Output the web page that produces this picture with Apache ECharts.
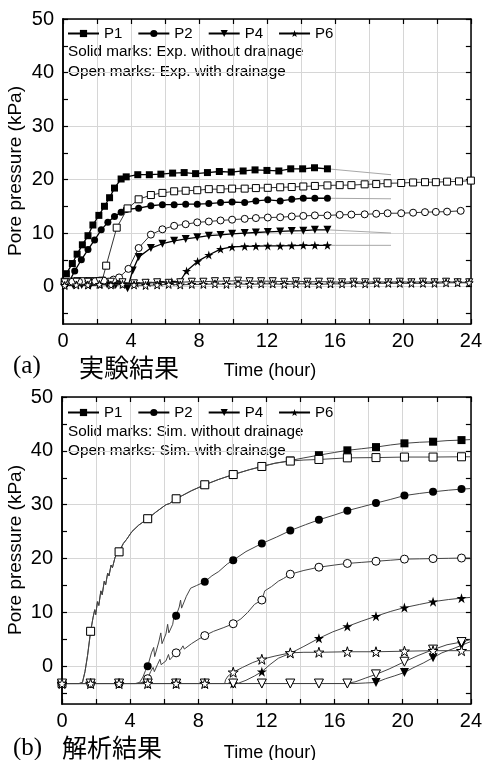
<!DOCTYPE html>
<html><head><meta charset="utf-8">
<script src="https://cdn.jsdelivr.net/npm/echarts@6/dist/echarts.min.js"></script>
<style>html,body{margin:0;padding:0;background:#fff}#c{width:485px;height:760px}</style>
</head><body><div id="c"></div>
<script>
// ---------- tick values ----------
const xLabelValues = [0, 4, 8, 12, 16, 20, 24];
const yLabelValues = [0, 10, 20, 30, 40, 50];
const yTickValues = [-5, 0, 5, 10, 15, 20, 25, 30, 35, 40, 45, 50];
const legendNames = ['P1', 'P2', 'P4', 'P6'];

// ---------- (a) experiment ----------
const expP1Solid = [[0.2,2.4],[0.55,4.3],[0.83,6.05],[1.14,7.8],[1.47,9.5],[1.76,11.5],[2.11,13.3],[2.44,15.0],[2.74,16.6],[3.03,18.4],[3.42,20.1],[3.72,20.5],[4.4,20.9],[5.08,20.9],[5.76,21.0],[6.45,21.2],[7.13,21.3],[7.8,21.1],[8.5,21.3],[9.2,21.5],[9.9,21.4],[10.6,21.6],[11.3,21.8],[12.0,21.7],[12.7,21.6],[13.4,22.0],[14.1,22.0],[14.8,22.2],[15.56,22.0]];
const expP2Solid = [[0.1,0.4],[0.36,0.9],[0.69,2.9],[1.08,5.0],[1.47,6.9],[1.86,8.7],[2.25,10.6],[2.64,12.0],[3.03,13.1],[3.42,13.9],[3.72,14.4],[4.45,14.65],[5.17,15.1],[5.85,15.3],[6.54,15.3],[7.22,15.4],[7.9,15.4],[8.58,15.5],[9.27,15.7],[9.95,15.8],[10.69,15.7],[11.35,16.0],[12.05,16.2],[12.78,16.0],[13.46,16.3],[14.14,16.5],[14.82,16.5],[15.56,16.5]];
const expP4Solid = [[0.1,0.2],[0.6,0.3],[1.1,0.3],[1.6,0.2],[2.1,0.3],[2.6,0.4],[3.1,0.3],[3.45,0.4],[3.8,-0.3],[4.1,3.0],[4.45,5.5],[5.17,7.2],[5.85,8.0],[6.54,8.55],[7.22,8.9],[7.9,9.2],[8.58,9.5],[9.27,9.65],[9.95,9.85],[10.69,10.0],[11.35,10.1],[12.05,10.2],[12.78,10.3],[13.46,10.4],[14.14,10.45],[14.82,10.6],[15.56,10.6]];
const expP6Solid = [[0.1,0.4],[0.8,0.4],[1.5,0.3],[2.2,0.4],[2.9,0.4],[3.6,0.5],[4.3,0.6],[5.0,0.7],[5.7,0.8],[6.4,0.9],[6.85,0.8],[7.27,2.9],[7.92,4.7],[8.58,5.9],[9.27,7.0],[9.95,7.4],[10.69,7.5],[11.35,7.55],[12.05,7.6],[12.78,7.6],[13.46,7.65],[14.14,7.7],[14.82,7.7],[15.56,7.7]];
const expP1Open = [[0.1,0.9],[0.5,0.9],[0.85,1.0],[1.2,1.0],[1.55,1.0],[1.9,1.0],[2.3,1.1],[2.54,3.9],[3.16,11.0],[3.8,14.6],[4.45,16.3],[5.17,17.1],[5.85,17.5],[6.54,17.8],[7.22,17.9],[7.9,18.0],[8.58,18.2],[9.27,18.2],[9.95,18.3],[10.69,18.3],[11.35,18.4],[12.05,18.45],[12.78,18.55],[13.46,18.6],[14.14,18.7],[14.82,18.8],[15.56,18.9],[16.28,18.95],[16.97,18.95],[17.75,19.1],[18.43,19.15],[19.1,19.3],[19.9,19.35],[20.6,19.45],[21.3,19.5],[21.94,19.5],[22.6,19.6],[23.3,19.65],[24.0,19.8]];
const expP2Open = [[0.1,0.8],[0.55,0.9],[0.94,0.9],[1.5,1.0],[1.9,1.0],[2.4,1.1],[2.97,1.3],[3.3,1.7],[3.85,3.3],[4.45,7.2],[5.17,9.7],[5.85,10.7],[6.54,11.35],[7.22,11.65],[7.9,12.0],[8.58,12.15],[9.27,12.35],[9.95,12.5],[10.69,12.65],[11.35,12.8],[12.05,12.9],[12.78,12.95],[13.46,13.1],[14.14,13.2],[14.82,13.3],[15.56,13.3],[16.28,13.4],[16.97,13.45],[17.75,13.5],[18.43,13.6],[19.1,13.7],[19.9,13.7],[20.6,13.8],[21.3,13.9],[21.94,13.95],[22.6,14.0],[23.4,14.15]];
const expP4Open = [[0.1,0.8],[0.78,0.9],[1.46,0.9],[2.14,1.0],[2.82,0.9],[3.5,0.8],[4.18,0.6],[4.86,0.7],[5.54,0.8],[6.22,0.7],[6.9,0.8],[7.58,0.9],[8.26,0.9],[8.94,1.0],[9.62,1.0],[10.3,1.1],[10.98,1.0],[11.66,1.0],[12.34,1.0],[13.02,0.9],[13.7,1.0],[14.38,0.9],[15.06,0.9],[15.74,0.9],[16.42,0.8],[17.1,0.9],[17.78,0.8],[18.46,0.9],[19.14,0.8],[19.82,0.9],[20.5,0.8],[21.18,0.9],[21.86,0.8],[22.54,0.9],[23.22,0.8],[23.9,0.8]];
const expP6Open = [[0.1,0.2],[0.78,0.3],[1.46,0.3],[2.14,0.4],[2.82,0.3],[3.5,0.4],[4.18,0.3],[4.86,0.2],[5.54,0.3],[6.22,0.4],[6.9,0.3],[7.58,0.4],[8.26,0.4],[8.94,0.5],[9.62,0.4],[10.3,0.5],[10.98,0.4],[11.66,0.5],[12.34,0.5],[13.02,0.4],[13.7,0.5],[14.38,0.5],[15.06,0.4],[15.74,0.5],[16.42,0.5],[17.1,0.6],[17.78,0.5],[18.46,0.6],[19.14,0.6],[19.82,0.6],[20.5,0.6],[21.18,0.6],[21.86,0.6],[22.54,0.7],[23.22,0.7],[23.9,0.7]];
const expExtP1 = [[15.56,22.0],[19.3,20.9]];
const expExtP2 = [[15.56,16.5],[19.3,16.4]];
const expExtP4 = [[15.56,10.6],[19.3,10.0]];
const expExtP6 = [[15.56,7.7],[19.3,7.7]];

// ---------- (b) simulation ----------
const simMarkTimes = [0, 1.68, 3.35, 5.03, 6.7, 8.38, 10.05, 11.73, 13.4, 15.08, 16.75, 18.43, 20.1, 21.78, 23.45];
const simP1SolidMarks = [-3.2, 6.5, 21.25, 27.4, 31.1, 33.7, 35.6, 37.1, 38.2, 39.2, 40.1, 40.7, 41.4, 41.7, 42.0];
const simP1OpenMarks  = [-3.2, 6.5, 21.25, 27.4, 31.1, 33.7, 35.6, 37.1, 38.1, 38.4, 38.7, 38.75, 38.85, 38.85, 38.9];
const simP2SolidMarks = [-3.2, -3.2, -3.2, 0.0, 9.4, 15.7, 19.7, 22.8, 25.2, 27.2, 28.9, 30.3, 31.7, 32.4, 32.9];
const simP2OpenMarks  = [-3.2, -3.2, -3.2, -2.3, 2.5, 5.7, 7.9, 12.3, 17.1, 18.4, 19.1, 19.5, 19.9, 20.0, 20.1];
const simP4SolidMarks = [-3.2, -3.2, -3.2, -3.2, -3.2, -3.2, -3.2, -3.2, -3.2, -3.2, -3.2, -3.0, -1.15, 1.6, 3.9];
const simP4OpenMarks  = [-3.2, -3.2, -3.2, -3.2, -3.2, -3.2, -3.2, -3.2, -3.2, -3.2, -3.2, -1.5, 0.85, 3.1, 4.5];
const simP6SolidMarks = [-3.2, -3.2, -3.2, -3.2, -3.2, -3.2, -3.2, -1.0, 2.4, 5.2, 7.4, 9.3, 10.9, 12.0, 12.65];
const simP6OpenMarks  = [-3.2, -3.2, -3.2, -3.2, -3.2, -3.2, -1.1, 1.3, 2.5, 2.6, 2.7, 2.7, 2.8, 2.9, 2.9];

const simP1OpenCurve = [[0,-3.2],[1.0,-3.2],[1.2,-3.0],[1.35,-1.0],[1.5,2.0],[1.68,6.5],[1.82,9.0],[1.92,10.5],[1.98,9.6],[2.08,12.0],[2.16,11.3],[2.28,14.0],[2.36,13.3],[2.48,15.8],[2.56,15.1],[2.68,17.3],[2.76,16.8],[2.88,18.8],[2.96,18.3],[3.12,20.3],[3.35,21.25],[3.6,22.8],[3.8,23.6],[3.9,23.3],[4.1,25.0],[4.5,26.2],[5.03,27.4],[5.5,28.6],[6.1,30.0],[6.3,30.2],[6.7,31.1],[7.0,31.6],[7.6,32.6],[8.38,33.7],[9.2,34.7],[10.05,35.6],[11.0,36.5],[11.73,37.1],[12.5,37.7],[13.4,38.1],[14.2,38.3],[15.08,38.4],[16.75,38.7],[18.43,38.75],[20.1,38.85],[21.78,38.85],[23.45,38.9],[24,38.9]];
const simP1SolidCurve = [[0,-3.2],[1.0,-3.2],[1.2,-3.0],[1.35,-1.0],[1.5,2.0],[1.68,6.5],[1.82,9.0],[1.92,10.5],[1.98,9.6],[2.08,12.0],[2.16,11.3],[2.28,14.0],[2.36,13.3],[2.48,15.8],[2.56,15.1],[2.68,17.3],[2.76,16.8],[2.88,18.8],[2.96,18.3],[3.12,20.3],[3.35,21.25],[3.6,22.8],[3.8,23.6],[3.9,23.3],[4.1,25.0],[4.5,26.2],[5.03,27.4],[5.5,28.6],[6.1,30.0],[6.3,30.2],[6.7,31.1],[7.0,31.6],[7.6,32.6],[8.38,33.7],[9.2,34.7],[10.05,35.6],[11.0,36.5],[11.73,37.1],[12.5,37.7],[13.4,38.2],[14.2,38.7],[15.08,39.2],[16.0,39.7],[16.75,40.1],[17.6,40.4],[18.43,40.7],[19.3,41.1],[20.1,41.4],[21.0,41.6],[21.78,41.7],[22.6,41.9],[23.45,42.0],[24,42.1]];
const simP2SolidCurve = [[0,-3.2],[4.3,-3.2],[4.55,-3.0],[4.75,-2.0],[4.9,-0.8],[5.03,0.0],[5.25,2.5],[5.38,3.5],[5.44,1.8],[5.68,4.5],[5.8,6.2],[5.87,4.2],[6.1,6.0],[6.2,7.8],[6.27,6.2],[6.5,7.8],[6.6,10.0],[6.65,8.6],[6.7,9.4],[6.88,11.0],[6.96,12.3],[7.02,10.8],[7.3,13.0],[7.55,14.5],[7.9,15.0],[8.38,15.7],[8.8,16.8],[9.2,17.6],[9.7,19.0],[10.05,19.7],[10.8,21.3],[11.73,22.8],[12.6,24.0],[13.4,25.2],[14.3,26.3],[15.08,27.2],[16.0,28.1],[16.75,28.9],[17.6,29.6],[18.43,30.3],[19.3,31.0],[20.1,31.7],[21.0,32.1],[21.78,32.4],[22.7,32.7],[23.45,32.9],[24,33.0]];
const simP2OpenCurve = [[0,-3.2],[4.4,-3.2],[4.7,-3.0],[4.85,-2.6],[5.03,-2.3],[5.2,-1.0],[5.35,-0.2],[5.42,-1.0],[5.6,0.3],[5.75,1.3],[5.82,0.3],[6.1,1.0],[6.25,2.2],[6.33,1.2],[6.55,2.0],[6.7,2.5],[6.95,3.0],[7.1,3.8],[7.18,3.2],[7.6,4.2],[8.0,5.0],[8.38,5.7],[8.9,6.5],[9.5,7.2],[10.05,7.9],[10.5,8.8],[10.9,10.0],[11.3,11.5],[11.73,12.3],[11.9,14.0],[12.3,14.8],[12.7,15.8],[13.0,16.3],[13.4,17.1],[14.2,17.8],[15.08,18.4],[16.0,18.8],[16.75,19.1],[17.6,19.3],[18.43,19.5],[19.3,19.7],[20.1,19.9],[21.0,19.95],[21.78,20.0],[22.7,20.05],[23.45,20.1],[24,20.1]];
const simP4SolidCurve = [[0,-3.2],[17.2,-3.2],[17.8,-3.1],[18.43,-3.0],[19.0,-2.3],[19.5,-1.8],[20.1,-1.15],[20.6,-0.3],[21.2,0.6],[21.78,1.6],[22.3,2.5],[22.9,3.2],[23.45,3.9],[24,4.6]];
const simP4OpenCurve = [[0,-3.2],[16.6,-3.2],[17.2,-2.9],[17.8,-2.2],[18.43,-1.5],[19.2,-0.5],[20.1,0.85],[20.9,2.0],[21.78,3.1],[22.6,4.0],[23.45,4.5],[24,5.0]];
const simP6SolidCurve = [[0,-3.2],[10.3,-3.2],[10.8,-2.6],[11.3,-1.8],[11.73,-1.0],[12.2,0.3],[12.7,1.5],[13.4,2.4],[14.2,3.7],[15.08,5.2],[15.9,6.4],[16.75,7.4],[17.6,8.4],[18.43,9.3],[19.3,10.2],[20.1,10.9],[21.0,11.5],[21.78,12.0],[22.7,12.4],[23.45,12.65],[24,12.8]];
const simP6OpenCurve = [[0,-3.2],[9.55,-3.2],[9.6,-2.5],[9.75,-1.8],[10.05,-1.1],[10.6,-0.2],[11.2,0.7],[11.73,1.3],[12.5,1.9],[13.4,2.5],[14.2,2.6],[15.08,2.6],[16.75,2.7],[18.43,2.7],[20.1,2.8],[21.78,2.9],[23.45,2.9],[24,2.9]];

// ---------- styling helpers ----------
const FONT = '"Liberation Sans", Arial, sans-serif';
const SQUARE = 'rect';
const CIRCLE = 'circle';
const TRI = 'path://M0,0L100,0L50,88Z';
const STAR = 'path://M50,0L61.2,34.5L97.6,34.5L68.2,55.9L79.4,90.5L50,69.1L20.6,90.5L31.8,55.9L2.4,34.5L38.8,34.5Z';
const Y_PER_GRID = 3;

function markerSeries(name, data, sym, size, open, gi, z) {
  return {
    type: 'line', name, data, xAxisIndex: gi * 2, yAxisIndex: gi * Y_PER_GRID,
    symbol: sym, symbolSize: size, showSymbol: true, showAllSymbol: true,
    lineStyle: { color: open ? '#333' : '#000', width: open ? 1 : 1.3 },
    itemStyle: { color: open ? '#fff' : '#000', borderColor: '#000', borderWidth: open ? 1 : 0 },
    animation: false, z: z, emphasis: { disabled: true }
  };
}
function curveSeries(name, data, gi, color, width) {
  return {
    type: 'line', name, data, xAxisIndex: gi * 2, yAxisIndex: gi * Y_PER_GRID,
    showSymbol: false, symbol: 'none',
    lineStyle: { color: color, width: width }, animation: false, z: 2, emphasis: { disabled: true }
  };
}
function scatterSeries(name, vals, sym, size, open, gi, z) {
  const data = [];
  simMarkTimes.forEach((t, i) => { if (vals[i] != null) data.push([t, vals[i]]); });
  return {
    type: 'scatter', name, data, xAxisIndex: gi * 2, yAxisIndex: gi * Y_PER_GRID,
    symbol: sym, symbolSize: size,
    itemStyle: { color: open ? '#fff' : '#000', borderColor: '#000', borderWidth: open ? 1 : 0, opacity: 1 },
    animation: false, z: z, emphasis: { disabled: true }
  };
}

const AXLINE = { show: true, onZero: false, lineStyle: { color: '#000', width: 1.5 } };
function xAxes(gi) {
  const base = { type: 'value', gridIndex: gi, min: 0, max: 24, interval: 2 };
  return [
    Object.assign({}, base, {
      position: 'bottom', axisLine: AXLINE,
      axisTick: { show: true, inside: true, length: 5, lineStyle: { color: '#000', width: 1.2 } },
      axisLabel: { customValues: xLabelValues, color: '#000', fontSize: 20, fontFamily: FONT, margin: 7 },
      splitLine: { show: true, lineStyle: { color: '#d6d6d6', width: 1 } }
    }),
    Object.assign({}, base, {
      position: 'top', axisLine: AXLINE,
      axisTick: { show: true, inside: true, length: 5, lineStyle: { color: '#000', width: 1.2 } },
      axisLabel: { show: false }, splitLine: { show: false }
    })
  ];
}
function yAxes(gi) {
  const base = { type: 'value', gridIndex: gi, min: -7, max: 50 };
  return [
    // labels + grid lines every 10
    Object.assign({}, base, {
      position: 'left', axisLine: AXLINE, splitNumber: 5,
      axisTick: { show: false },
      axisLabel: { customValues: yLabelValues, color: '#000', fontSize: 20, fontFamily: FONT, margin: 9 },
      splitLine: { show: true, lineStyle: { color: '#d6d6d6', width: 1 } }
    }),
    // left ticks overlay
    Object.assign({}, base, {
      position: 'left', offset: 0, axisLine: AXLINE,
      axisTick: { show: true, inside: true, length: 5, customValues: yTickValues, lineStyle: { color: '#000', width: 1.2 } },
      axisLabel: { show: false }, splitLine: { show: false }
    }),
    // right frame
    Object.assign({}, base, {
      position: 'right', axisLine: AXLINE,
      axisTick: { show: true, inside: true, length: 5, customValues: yTickValues, lineStyle: { color: '#000', width: 1.2 } },
      axisLabel: { show: false }, splitLine: { show: false }
    })
  ];
}
function txt(x, y, text, font, align, rot) {
  return {
    type: 'text', x: x, y: y, rotation: rot || 0, silent: true,
    style: { text: text, font: font, fill: '#000', textAlign: align, textVerticalAlign: 'middle', align: align, verticalAlign: 'middle' }
  };
}

const series = [
  markerSeries('P1', expP1Solid, SQUARE, 7, false, 0, 4),
  markerSeries('P2', expP2Solid, CIRCLE, 7, false, 0, 4),
  markerSeries('P4', expP4Solid, TRI, 8, false, 0, 4),
  markerSeries('P6', expP6Solid, STAR, 9, false, 0, 4),
  markerSeries('P1 open a', expP1Open, SQUARE, 7, true, 0, 5),
  markerSeries('P2 open a', expP2Open, CIRCLE, 7, true, 0, 5),
  markerSeries('P4 open a', expP4Open, TRI, 7, true, 0, 5),
  markerSeries('P6 open a', expP6Open, STAR, 8, true, 0, 5),
  curveSeries('ext P1', expExtP1, 0, '#a8a8a8', 1),
  curveSeries('ext P2', expExtP2, 0, '#a8a8a8', 1),
  curveSeries('ext P4', expExtP4, 0, '#a8a8a8', 1),
  curveSeries('ext P6', expExtP6, 0, '#a8a8a8', 1),
  curveSeries('sim P1 s', simP1SolidCurve, 1, '#444', 1),
  curveSeries('sim P1 o', simP1OpenCurve, 1, '#444', 1),
  curveSeries('sim P2 s', simP2SolidCurve, 1, '#444', 1),
  curveSeries('sim P2 o', simP2OpenCurve, 1, '#444', 1),
  curveSeries('sim P4 s', simP4SolidCurve, 1, '#444', 1),
  curveSeries('sim P4 o', simP4OpenCurve, 1, '#444', 1),
  curveSeries('sim P6 s', simP6SolidCurve, 1, '#444', 1),
  curveSeries('sim P6 o', simP6OpenCurve, 1, '#444', 1),
  scatterSeries('m P1 s', simP1SolidMarks, SQUARE, 8, false, 1, 4),
  scatterSeries('m P2 s', simP2SolidMarks, CIRCLE, 8, false, 1, 4),
  scatterSeries('m P4 s', simP4SolidMarks, TRI, 9, false, 1, 4),
  scatterSeries('m P6 s', simP6SolidMarks, STAR, 10, false, 1, 4),
  scatterSeries('m P1 o', simP1OpenMarks, SQUARE, 8, true, 1, 5),
  scatterSeries('m P2 o', simP2OpenMarks, CIRCLE, 8, true, 1, 5),
  scatterSeries('m P4 o', simP4OpenMarks, TRI, 9, true, 1, 5),
  scatterSeries('m P6 o', simP6OpenMarks, STAR, 10, true, 1, 5)
];

const legendBase = {
  data: legendNames, orient: 'horizontal', left: 67, padding: 0,
  itemWidth: 31, itemHeight: 9, itemGap: 15, selectedMode: false,
  textStyle: { color: '#000', fontSize: 15, fontFamily: FONT }
};

const option = {
  backgroundColor: '#fff',
  animation: false,
  grid: [
    { left: 63, top: 19, width: 410, height: 305, containLabel: false },
    { left: 62, top: 397, width: 412, height: 307, containLabel: false }
  ],
  xAxis: [...xAxes(0), ...xAxes(1)],
  yAxis: [...yAxes(0), ...yAxes(1)],
  legend: [
    Object.assign({}, legendBase, { top: 26 }),
    Object.assign({}, legendBase, { top: 405 })
  ],
  series: series,
  graphic: [
    txt(16, 171, 'Pore pressure (kPa)', '19px ' + FONT, 'center', Math.PI / 2),
    txt(16, 550, 'Pore pressure (kPa)', '19px ' + FONT, 'center', Math.PI / 2),
    txt(68, 52, 'Solid marks: Exp. without drainage', '15.3px ' + FONT, 'left'),
    txt(68, 72, 'Open marks: Exp. with drainage', '15.3px ' + FONT, 'left'),
    txt(68, 432, 'Solid marks: Sim. without drainage', '15.3px ' + FONT, 'left'),
    txt(68, 451, 'Open marks: Sim. with drainage', '15.3px ' + FONT, 'left'),
    txt(13, 366, '(a)', '25px "Liberation Serif", serif', 'left'),
    txt(79, 367, '実験結果', '25px "Noto Sans CJK JP", sans-serif', 'left'),
    txt(270, 371, 'Time (hour)', '18px ' + FONT, 'center'),
    txt(13, 748, '(b)', '25px "Liberation Serif", serif', 'left'),
    txt(62, 747, '解析結果', '25px "Noto Sans CJK JP", sans-serif', 'left'),
    txt(270, 753, 'Time (hour)', '18px ' + FONT, 'center')
  ]
};

const chart = echarts.init(document.getElementById('c'), null, { renderer: 'canvas' });
chart.setOption(option);
</script>
</body></html>
